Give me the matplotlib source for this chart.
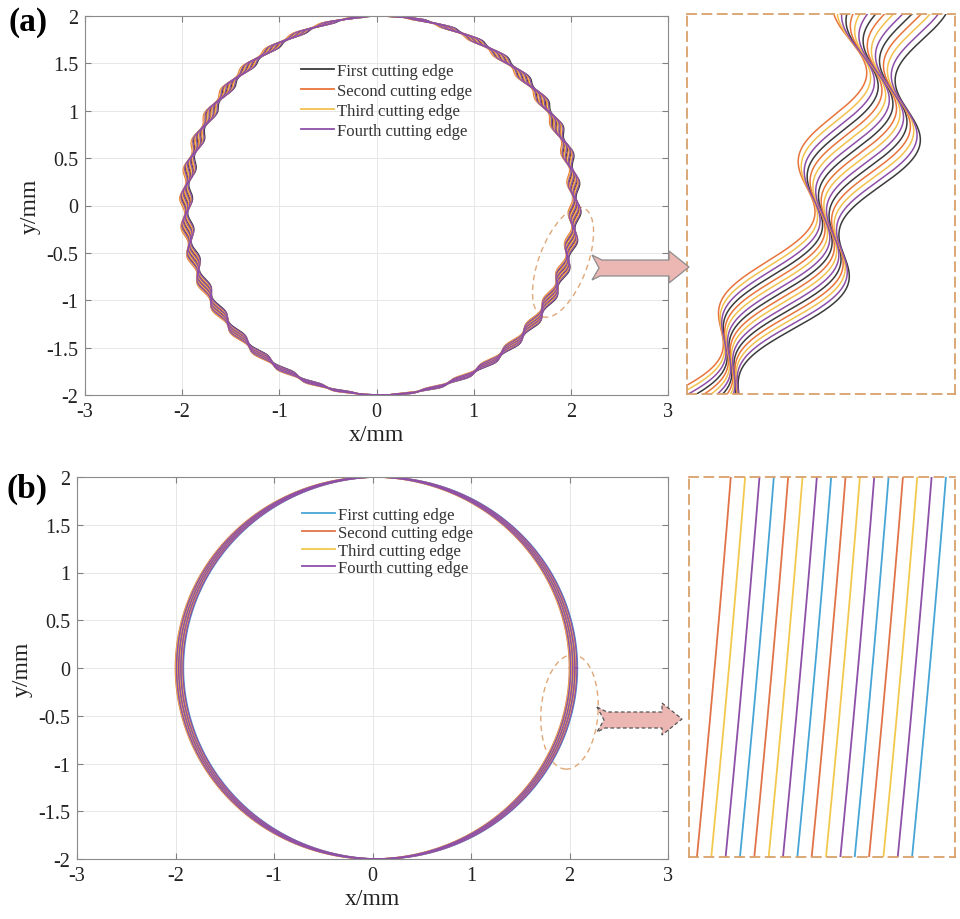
import numpy as np
import matplotlib.pyplot as plt
from matplotlib.patches import Ellipse, Polygon

plt.rcParams['font.family'] = ['Liberation Serif', 'DejaVu Serif']

# legend entries, one colour set per panel
EDGES = ["First cutting edge", "Second cutting edge", "Third cutting edge", "Fourth cutting edge"]
COLORS_A = ["#3b3b3b", "#e8743b", "#f2c14e", "#8e4fa8"]
COLORS_B = ["#46a5d6", "#e07448", "#f2c94e", "#8e4fa8"]

# tool path (mm)
RADIUS = 2.0
CENTER_X = 0.04
FEED_STEP = 0.0055           # x shift between successive passes
PASS_EDGE = [1, 2, 3, 0] * 4  # which edge cut each pass, left to right
WAVE_COUNT = 40              # vibration waves per revolution in (a)
WAVE_AMP = 0.025             # x vibration amplitude in (a)
WAVE_PHASE_STEP = 0.2        # phase lag between passes in (a)

XTICKS = [-3, -2, -1, 0, 1, 2, 3]
YTICKS = [-2, -1.5, -1, -0.5, 0, 0.5, 1, 1.5, 2]
ZOOM_A = ((1.808, 2.110), (-0.9, -0.1))
ZOOM_B = ((1.9553, 2.0573), (-0.40, -0.33))

W, H = 960, 920
theta = np.linspace(0, 2 * np.pi, 6000)


def pass_curve(i, amp):
    x = (RADIUS * np.cos(theta) + CENTER_X + (i - 7.5) * FEED_STEP
         + amp * np.sin(WAVE_COUNT * theta + i * WAVE_PHASE_STEP))
    y = RADIUS * np.sin(theta)
    return x, y


def draw_paths(ax, colors, amp, lw, legend=False):
    for e in range(4):
        first = True
        for i, pe in enumerate(PASS_EDGE):
            if pe != e:
                continue
            x, y = pass_curve(i, amp)
            ax.plot(x, y, color=colors[e], lw=lw,
                    label=EDGES[e] if (first and legend) else None)
            first = False


def style_main(ax):
    ax.set_xlim(-3, 3)
    ax.set_ylim(-2, 2)
    ax.set_xticks(XTICKS)
    ax.set_yticks(YTICKS)
    ax.set_xticklabels([f"{t:g}" for t in XTICKS])
    ax.set_yticklabels([f"{t:g}" for t in YTICKS])
    ax.grid(True, color="#e3e3e3", lw=0.6)
    ax.set_axisbelow(True)
    ax.tick_params(direction="in", top=True, right=True, length=4,
                   labelsize=14.5, colors="#808080", labelcolor="#222222", pad=5)
    for s in ax.spines.values():
        s.set_color("#8a8a8a")
        s.set_linewidth(0.8)
    ax.set_xlabel("x/mm", fontsize=17, color="#222222", labelpad=2)
    ax.set_ylabel("y/mm", fontsize=17, color="#222222", labelpad=4)


def add_legend(ax, anchor, spacing):
    leg = ax.legend(loc="upper left", bbox_to_anchor=anchor, frameon=False,
                    fontsize=12, handlelength=2.0, handletextpad=0.15,
                    labelspacing=spacing, labelcolor="#333333")
    for h in leg.legend_handles:
        h.set_linewidth(1.3)


def style_zoom(ax, lims):
    ax.set_xlim(*lims[0])
    ax.set_ylim(*lims[1])
    ax.set_xticks([])
    ax.set_yticks([])
    for s in ax.spines.values():
        s.set_color("#d9a06a")
        s.set_linewidth(1.3)
        s.set_linestyle((0, (5, 3.5)))


def px_axes(fig, l, t, r, b):
    return fig.add_axes([l / W, 1 - b / H, (r - l) / W, (b - t) / H])


def block_arrow(fig, x0, x1, yc, dashed=False):
    # notched-tail block arrow, in pixel units
    pts = [(x0, yc - 12), (x0 + 10, yc - 7), (x1 - 20, yc - 7), (x1 - 20, yc - 16),
           (x1, yc), (x1 - 20, yc + 16), (x1 - 20, yc + 9), (x0 + 8, yc + 9),
           (x0, yc + 13), (x0 + 7, yc + 1)]
    pts = [(x / W, 1 - y / H) for x, y in pts]
    fig.patches.append(Polygon(pts, closed=True, transform=fig.transFigure,
                               facecolor="#ecb7b2", edgecolor="#555555" if dashed else "#8c8c8c",
                               lw=0.9, ls=(0, (3, 2)) if dashed else "-"))


fig = plt.figure(figsize=(W / 100, H / 100), dpi=100)

# (a) with vibration
ax_a = px_axes(fig, 85, 17, 668, 396)
draw_paths(ax_a, COLORS_A, WAVE_AMP, 0.9, legend=True)
style_main(ax_a)
add_legend(ax_a, (0.345, 0.915), 0.24)
ax_a.add_patch(Ellipse((1.92, -0.6), 0.5, 1.22, angle=-20, fill=False,
                       ec="#e0a878", lw=1.0, ls=(0, (4, 3))))

zoom_a = px_axes(fig, 687, 15, 955, 395)
draw_paths(zoom_a, COLORS_A, WAVE_AMP, 1.1)
style_zoom(zoom_a, ZOOM_A)
block_arrow(fig, 592, 689, 268)

# (b) without vibration
ax_b = px_axes(fig, 77, 478, 668, 860)
draw_paths(ax_b, COLORS_B, 0.0, 1.0, legend=True)
style_main(ax_b)
add_legend(ax_b, (0.355, 0.96), 0.1)
ax_b.add_patch(Ellipse((2.0, -0.46), 0.58, 1.2, angle=-4, fill=False,
                       ec="#e0a878", lw=1.0, ls=(0, (4, 3))))

zoom_b = px_axes(fig, 689, 478, 955, 858)
draw_paths(zoom_b, COLORS_B, 0.0, 1.3)
style_zoom(zoom_b, ZOOM_B)
block_arrow(fig, 597, 682, 720, dashed=True)

fig.text(9 / W, 1 - 23 / H, "(a)", fontsize=24, fontweight="bold", va="center")
fig.text(7 / W, 1 - 489 / H, "(b)", fontsize=24, fontweight="bold", va="center")

fig.savefig("out.png", dpi=100)
